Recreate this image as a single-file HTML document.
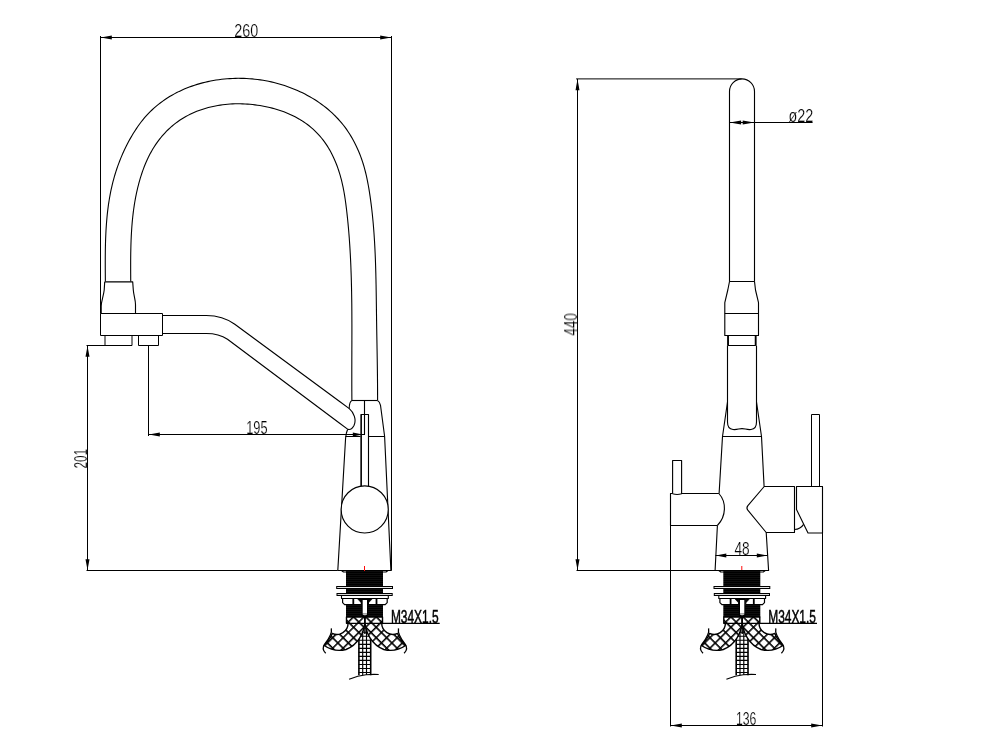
<!DOCTYPE html>
<html lang="en"><head><meta charset="utf-8"><title>Faucet dimensions</title>
<style>
html,body{margin:0;padding:0;background:#fff;}
body{width:981px;height:753px;overflow:hidden;}
svg{display:block;}
.g line,.g path,.g rect,.g circle,.g polyline{fill:none;stroke:#000;stroke-width:1.12;stroke-linecap:butt;stroke-linejoin:round;}
.g line,.g rect{stroke-width:1;}
.g .w{fill:#fff;}
.g .blk{fill:#000;stroke:#000;}
.g .ah{fill:#000;stroke:none;}
.g .red{stroke:#ff0a0a;stroke-width:1;}
.t{font-family:"Liberation Sans","DejaVu Sans",sans-serif;fill:#000;}
.tn{stroke:#fff;stroke-width:.2;}
.tb{stroke:#000;stroke-width:.5;}
</style></head><body>
<svg width="981" height="753" viewBox="0 0 981 753">
<rect x="0" y="0" width="981" height="753" fill="#fff"/>
<defs>
<pattern id="diaL" width="7.4" height="7.4" patternUnits="userSpaceOnUse" patternTransform="translate(337.9 641.8) rotate(45)"><rect width="7.4" height="7.4" fill="#fff"/><path d="M0,0 H7.4 M0,0 V7.4" stroke="#000" stroke-width="3.1" fill="none"/></pattern>
<pattern id="diaR" width="7.4" height="7.4" patternUnits="userSpaceOnUse" patternTransform="translate(391.9 641.8) rotate(45)"><rect width="7.4" height="7.4" fill="#fff"/><path d="M0,0 H7.4 M0,0 V7.4" stroke="#000" stroke-width="3.1" fill="none"/></pattern>
<pattern id="thr" width="4" height="2" patternUnits="userSpaceOnUse"><rect width="4" height="2" fill="#000"/><rect y="1.2" width="4" height=".6" fill="#161616"/></pattern>
</defs>
<g opacity="0.999">
<text class="t tn" transform="translate(246.2 37) scale(0.8 1)" font-size="18" text-anchor="middle">260</text>
<text class="t tn" transform="translate(256.9 434) scale(0.71 1)" font-size="18" text-anchor="middle">195</text>
<text class="t tn" transform="translate(87 458.8) rotate(-90) scale(0.65 1)" font-size="18" text-anchor="middle">201</text>
<text class="t tn" transform="translate(577 324.4) rotate(-90) scale(0.75 1)" font-size="18" text-anchor="middle">440</text>
<text class="t tn" transform="translate(800.8 122) scale(0.8 1)" font-size="18" text-anchor="middle">ø22</text>
<text class="t tn" transform="translate(742.1 555) scale(0.76 1)" font-size="18" text-anchor="middle">48</text>
<text class="t tn" transform="translate(746.2 725) scale(0.68 1)" font-size="18" text-anchor="middle">136</text>
<text class="t tb" transform="translate(390.9 622.9) scale(0.67 1)" font-size="17.8" text-anchor="start">M34X1.5</text>
<text class="t tb" transform="translate(768.2 622.9) scale(0.67 1)" font-size="17.8" text-anchor="start">M34X1.5</text>
</g>
<g class="g">
<line x1="100.5" y1="36" x2="100.5" y2="313.5"/>
<line x1="391.5" y1="36" x2="391.5" y2="570.5"/>
<line x1="100.5" y1="37.5" x2="391.5" y2="37.5"/>
<polygon class="ah" points="100.8,37.5 111.8,35.5 111.8,39.5"/>
<polygon class="ah" points="391.2,37.5 380.2,35.5 380.2,39.5"/>
<clipPath id="archclip"><path d="M0,0 H250 V281.5 H0 Z M250,0 H500 V400.5 H250 Z"/></clipPath>
<g clip-path="url(#archclip)">
<path d="M105.45,299.9 L105.45,297.18 L105.44,294.45 L105.43,291.72 L105.42,288.98 L105.4,286.24 L105.38,283.5 L105.36,280.74 L105.34,277.99 L105.32,275.23 L105.3,272.47 L105.28,269.7 L105.27,266.94 L105.26,264.17 L105.26,261.4 L105.27,258.62 L105.28,255.85 L105.31,253.08 L105.34,250.3 L105.39,247.53 L105.45,244.75 L105.52,241.98 L105.61,239.21 L105.72,236.44 L105.84,233.67 L105.98,230.9 L106.14,228.14 L106.33,225.38 L106.53,222.62 L106.76,219.87 L107.01,217.12 L107.28,214.38 L107.58,211.64 L107.91,208.9 L108.27,206.17 L108.65,203.45 L109.07,200.73 L109.52,198.02 L110,195.32 L110.51,192.62 L111.06,189.94 L111.65,187.26 L112.27,184.59 L112.93,181.92 L113.63,179.27 L114.37,176.63 L115.16,173.99 L115.98,171.37 L116.84,168.76 L117.74,166.16 L118.69,163.57 L119.67,160.99 L120.7,158.42 L121.76,155.87 L122.87,153.33 L124.02,150.8 L125.21,148.29 L126.44,145.79 L127.71,143.31 L129.02,140.84 L130.37,138.39 L131.77,135.97 L133.21,133.57 L134.7,131.19 L136.23,128.85 L137.8,126.53 L139.42,124.25 L141.1,122.02 L142.82,119.83 L144.59,117.7 L146.42,115.62 L148.3,113.6 L150.23,111.64 L152.21,109.74 L154.23,107.9 L156.31,106.11 L158.42,104.38 L160.58,102.71 L162.79,101.1 L165.03,99.54 L167.31,98.04 L169.63,96.59 L171.98,95.21 L174.37,93.87 L176.79,92.6 L179.25,91.38 L181.73,90.22 L184.24,89.11 L186.78,88.05 L189.35,87.06 L191.94,86.11 L194.55,85.23 L197.18,84.39 L199.83,83.61 L202.51,82.89 L205.19,82.22 L207.9,81.6 L210.62,81.04 L213.35,80.53 L216.09,80.07 L218.84,79.67 L221.6,79.32 L224.37,79.02 L227.14,78.77 L229.91,78.58 L232.69,78.44 L235.47,78.35 L238.25,78.32 L241.03,78.33 L243.8,78.4 L246.57,78.52 L249.34,78.69 L252.1,78.91 L254.85,79.18 L257.6,79.51 L260.34,79.88 L263.07,80.31 L265.8,80.79 L268.51,81.32 L271.21,81.9 L273.91,82.53 L276.58,83.22 L279.25,83.95 L281.9,84.74 L284.54,85.57 L287.16,86.46 L289.77,87.4 L292.35,88.39 L294.92,89.43 L297.47,90.52 L300,91.67 L302.5,92.86 L304.97,94.1 L307.42,95.4 L309.84,96.74 L312.23,98.14 L314.59,99.58 L316.91,101.07 L319.2,102.62 L321.45,104.21 L323.66,105.86 L325.83,107.55 L327.96,109.29 L330.04,111.09 L332.08,112.93 L334.08,114.82 L336.02,116.76 L337.91,118.75 L339.76,120.78 L341.54,122.87 L343.28,125.01 L344.95,127.19 L346.57,129.42 L348.13,131.7 L349.63,134.02 L351.08,136.38 L352.47,138.77 L353.81,141.2 L355.09,143.67 L356.31,146.16 L357.47,148.68 L358.59,151.23 L359.64,153.8 L360.64,156.39 L361.59,159 L362.48,161.62 L363.32,164.26 L364.1,166.91 L364.83,169.57 L365.52,172.25 L366.17,174.93 L366.77,177.62 L367.34,180.31 L367.87,183.02 L368.37,185.73 L368.84,188.45 L369.29,191.17 L369.71,193.89 L370.12,196.62 L370.5,199.34 L370.87,202.08 L371.23,204.81 L371.56,207.54 L371.88,210.28 L372.19,213.02 L372.47,215.76 L372.75,218.5 L373.01,221.25 L373.26,224 L373.49,226.74 L373.71,229.49 L373.92,232.24 L374.11,235 L374.29,237.75 L374.47,240.51 L374.63,243.26 L374.78,246.02 L374.92,248.78 L375.05,251.54 L375.18,254.3 L375.29,257.06 L375.4,259.82 L375.5,262.58 L375.59,265.35 L375.67,268.11 L375.75,270.87 L375.83,273.64 L375.89,276.4 L375.96,279.17 L376.01,281.94 L376.07,284.7 L376.12,287.47 L376.16,290.23 L376.21,293 L376.25,295.77 L376.29,298.53 L376.32,301.3 L376.36,304.06 L376.4,306.83 L376.43,309.59 L376.47,312.36 L376.51,315.12 L376.54,317.88 L376.58,320.64 L376.63,323.41 L376.67,326.17 L376.71,328.93 L376.76,331.69 L376.8,334.45 L376.85,337.2 L376.9,339.96 L376.95,342.72 L377,345.48 L377.04,348.23 L377.09,350.99 L377.14,353.75 L377.18,356.51 L377.23,359.26 L377.27,362.02 L377.31,364.78 L377.35,367.53 L377.39,370.29 L377.42,373.05 L377.45,375.81 L377.48,378.56 L377.51,381.32 L377.53,384.08 L377.55,386.84 L377.57,389.6 L377.58,392.36 L377.59,395.12 L377.59,397.89 L377.59,400.65 L377.58,403.41 L377.57,406.18 L377.55,408.94 L377.53,411.71 L377.5,414.48 L377.46,417.25 L377.42,420.02" style="stroke-width:1.1"/>
<path d="M130.81,299.94 L130.82,297.51 L130.81,295.07 L130.8,292.63 L130.79,290.19 L130.78,287.75 L130.76,285.3 L130.75,282.85 L130.73,280.4 L130.71,277.95 L130.7,275.49 L130.68,273.03 L130.67,270.57 L130.66,268.11 L130.66,265.65 L130.66,263.19 L130.67,260.73 L130.69,258.26 L130.71,255.8 L130.74,253.34 L130.79,250.88 L130.84,248.41 L130.9,245.95 L130.97,243.49 L131.06,241.03 L131.16,238.57 L131.27,236.12 L131.4,233.66 L131.55,231.21 L131.71,228.76 L131.88,226.31 L132.08,223.86 L132.29,221.42 L132.53,218.98 L132.78,216.54 L133.06,214.11 L133.36,211.68 L133.68,209.26 L134.03,206.83 L134.39,204.42 L134.79,202 L135.21,199.6 L135.66,197.19 L136.13,194.79 L136.64,192.4 L137.17,190.02 L137.73,187.63 L138.33,185.26 L138.95,182.89 L139.61,180.53 L140.3,178.17 L141.03,175.82 L141.79,173.49 L142.59,171.16 L143.43,168.84 L144.3,166.54 L145.22,164.25 L146.18,161.98 L147.19,159.73 L148.24,157.5 L149.34,155.3 L150.49,153.11 L151.69,150.96 L152.94,148.83 L154.25,146.72 L155.6,144.65 L157.02,142.62 L158.48,140.61 L160,138.65 L161.56,136.73 L163.18,134.85 L164.84,133.02 L166.55,131.23 L168.3,129.5 L170.1,127.83 L171.93,126.21 L173.81,124.65 L175.73,123.15 L177.68,121.71 L179.67,120.32 L181.7,119 L183.76,117.74 L185.85,116.53 L187.98,115.38 L190.13,114.29 L192.32,113.26 L194.53,112.28 L196.77,111.35 L199.03,110.49 L201.32,109.67 L203.62,108.91 L205.95,108.21 L208.3,107.56 L210.67,106.96 L213.06,106.42 L215.46,105.92 L217.87,105.48 L220.3,105.09 L222.75,104.76 L225.2,104.47 L227.66,104.23 L230.13,104.05 L232.61,103.91 L235.09,103.82 L237.58,103.78 L240.07,103.79 L242.56,103.85 L245.05,103.95 L247.54,104.1 L250.03,104.3 L252.52,104.54 L255,104.83 L257.48,105.17 L259.95,105.54 L262.41,105.97 L264.86,106.44 L267.3,106.95 L269.72,107.5 L272.14,108.1 L274.53,108.75 L276.91,109.44 L279.27,110.19 L281.61,110.98 L283.93,111.82 L286.22,112.71 L288.48,113.65 L290.72,114.64 L292.93,115.69 L295.11,116.79 L297.26,117.94 L299.37,119.15 L301.45,120.41 L303.49,121.73 L305.49,123.11 L307.45,124.55 L309.37,126.04 L311.25,127.59 L313.08,129.19 L314.86,130.85 L316.59,132.56 L318.28,134.32 L319.91,136.13 L321.48,138 L323,139.9 L324.47,141.86 L325.87,143.86 L327.22,145.9 L328.52,147.98 L329.76,150.1 L330.95,152.25 L332.08,154.44 L333.17,156.65 L334.2,158.9 L335.19,161.17 L336.13,163.46 L337.02,165.78 L337.86,168.11 L338.66,170.46 L339.41,172.82 L340.12,175.2 L340.79,177.59 L341.42,179.98 L342,182.38 L342.55,184.78 L343.07,187.19 L343.55,189.6 L344,192.02 L344.42,194.44 L344.81,196.86 L345.18,199.29 L345.53,201.72 L345.86,204.15 L346.18,206.58 L346.47,209.02 L346.76,211.46 L347.03,213.89 L347.3,216.33 L347.56,218.77 L347.8,221.21 L348.04,223.65 L348.27,226.09 L348.49,228.54 L348.7,230.98 L348.9,233.42 L349.09,235.87 L349.28,238.31 L349.45,240.76 L349.62,243.21 L349.78,245.65 L349.94,248.1 L350.08,250.55 L350.22,253 L350.36,255.45 L350.48,257.9 L350.6,260.35 L350.71,262.8 L350.82,265.25 L350.92,267.7 L351.01,270.16 L351.1,272.61 L351.18,275.06 L351.26,277.52 L351.33,279.97 L351.39,282.43 L351.45,284.88 L351.51,287.34 L351.56,289.79 L351.61,292.25 L351.65,294.7 L351.69,297.16 L351.73,299.62 L351.76,302.07 L351.79,304.53 L351.81,306.99 L351.83,309.45 L351.85,311.9 L351.86,314.36 L351.87,316.82 L351.88,319.28 L351.89,321.74 L351.9,324.2 L351.9,326.65 L351.9,329.11 L351.9,331.57 L351.9,334.03 L351.89,336.49 L351.89,338.95 L351.88,341.41 L351.88,343.87 L351.87,346.32 L351.86,348.78 L351.85,351.24 L351.85,353.7 L351.84,356.16 L351.83,358.62 L351.82,361.07 L351.82,363.53 L351.81,365.99 L351.8,368.45 L351.8,370.9 L351.8,373.36 L351.8,375.82 L351.8,378.27 L351.8,380.73 L351.8,383.19 L351.81,385.64 L351.81,388.1 L351.82,390.55 L351.84,393.01 L351.85,395.46 L351.87,397.91 L351.89,400.37 L351.92,402.82 L351.95,405.27 L351.98,407.72 L352.02,410.17 L352.06,412.62 L352.1,415.08 L352.15,417.52 L352.2,419.97" style="stroke-width:1.1"/>
</g>
<path d="M104.7,281.9 H132.7 L133.3,290 C133.8,296 135.5,300 135.5,304.5 V313.5 M104.7,281.9 L104.2,290 C103.6,296 101.2,301 101.2,306 V313.5"/>
<rect x="100.5" y="313.5" width="62" height="22"/>
<rect x="105" y="335.5" width="27" height="10"/>
<rect x="138.5" y="335.5" width="20" height="10"/>
<path d="M162.5,315.5 H206.3 C218,315.5 227,318.6 234.8,324.3 L349.3,408.6 C354,412.5 356.6,420 354,425.6 C352.5,428.6 350,429.9 347.9,429.4 L227.5,339.3 C221.5,335.2 215,333.5 206.3,333.5 H162.5"/>
<path d="M352,400.5 H377.5"/>
<path d="M352,400.5 C350.3,401.2 349.3,403.5 349.2,408.5"/>
<path d="M377.5,400.5 C379.5,401.5 380,403 380.5,405.3 L384.6,436.2 L390.9,570.5"/>
<path d="M347.6,429.5 L346.4,433 L345.6,438 L337.8,570.5"/>
<line x1="345.4" y1="436.5" x2="360.5" y2="436.5"/>
<line x1="368.5" y1="436.5" x2="384.6" y2="436.5"/>
<line x1="337.8" y1="570.5" x2="391.5" y2="570.5"/>
<path d="M360.7,414.5 H368.5 V487"/>
<line x1="361.15" y1="414.5" x2="361.15" y2="487" style="stroke-width:1.6"/>
<path d="M364.5,400.5 V434.5 H361"/>
<circle class="w" cx="364.7" cy="509.4" r="23.55"/>
<line x1="148.5" y1="345.5" x2="148.5" y2="436"/>
<line x1="148.5" y1="434.5" x2="362.6" y2="434.5"/>
<polygon class="ah" points="148.8,434.5 159.8,432.5 159.8,436.5"/>
<polygon class="ah" points="362.6,434.5 352.8,432.5 352.8,436.5"/>
<line x1="86.5" y1="345.5" x2="117.5" y2="345.5"/>
<line x1="86.5" y1="570.5" x2="337.8" y2="570.5"/>
<line x1="87.5" y1="345.5" x2="87.5" y2="570.5"/>
<polygon class="ah" points="87.5,345.8 85.5,356.8 89.5,356.8"/>
<polygon class="ah" points="87.5,570.2 85.5,559.2 89.5,559.2"/>
<g transform="translate(0 0)">
<path d="M341.5,570.5 L343.5,572 H386 L388,570.5"/>
<rect x="346" y="571" width="37" height="15" style="fill:url(#thr);stroke:none"/>
<rect x="346" y="589" width="37" height="4" style="fill:url(#thr);stroke:none"/>
<rect x="336.2" y="586" width="56.8" height="3" style="fill:#000;stroke:none"/>
<rect x="337.2" y="587" width="54.8" height="1" style="fill:#e8e8e8;stroke:none"/>
<rect x="336.5" y="593" width="56.2" height="3" style="fill:#000;stroke:none"/>
<rect x="337.5" y="594" width="54.2" height="1" style="fill:#d8d8d8;stroke:none"/>
<path class="w" d="M341.5,596 V598.5 H388.3 V596" style="stroke-width:1.1"/>
<path class="w" d="M342.6,598.5 V602.6 L344.6,604.6 H361.4 V598.5 Z" style="stroke-width:1.2"/>
<path class="w" d="M387.2,598.5 V602.6 L385.2,604.6 H368.4 V598.5 Z" style="stroke-width:1.2"/>
<path d="M353.3,598.5 V604.5 M376.5,598.5 V604.5" style="stroke-width:1.8"/>
<path d="M357.2,598.5 H361 V602.5 Z M372.6,598.5 H368.8 V602.5 Z" style="fill:#000;stroke-width:.6"/>
<path d="M349,604.8 H357 M372.8,604.8 H380.8" style="stroke:#000;stroke-width:1.6"/>
<rect x="346" y="604.8" width="37" height="12.5" style="fill:url(#thr);stroke:none"/>
<rect x="361.5" y="598.5" width="6.6" height="17.5" style="fill:#000;stroke:none"/>
<rect x="362.7" y="600" width="4.3" height="13.6" style="fill:#fff;stroke:none"/>
<path d="M362.7,613.8 H367 V614.6 C366.3,615.6 363.4,615.6 362.7,614.6 Z" style="fill:#c4c4c4;stroke:none"/>
<path d="M362.7,624 V675 M366.5,624 V675 M358.6,628.2 H370.9 M358.6,632.23 H370.9 M358.6,636.26 H370.9 M358.6,640.29 H370.9 M358.6,644.32 H370.9 M358.6,648.35 H370.9 M358.6,652.38 H370.9 M358.6,656.41 H370.9 M358.6,660.44 H370.9 M358.6,664.47 H370.9 M358.6,668.5 H370.9 M358.6,672.53 H370.9" style="stroke-width:1.15"/>
<path d="M358.9,624 V675.2 M370.7,624 V675.2" style="stroke-width:1.6"/>
<path d="M349.1,679.3 C355,676.8 361,675.2 366,674.7 C370,674.4 375,674.4 378.7,674.5"/>
<path d="M346.5,617 V623.3 H348.1 A11.2,11.2 0 0 1 332.2,633.4 C331,638 327.5,641.5 324.2,645.5 C330,649.5 338,651.5 346,649.5 C358,645 364,633 364.9,622 V617 Z" style="fill:url(#diaL);stroke-width:1.4"/>
<path d="M382.5,617 V623.3 H381.7 A11.2,11.2 0 0 0 397.6,633.4 C398.8,638 402.3,641.5 405.6,645.5 C399.8,649.5 391.8,651.5 383.8,649.5 C371.8,645 365.8,633 364.9,622 V617 Z" style="fill:url(#diaR);stroke-width:1.4"/>
<path d="M331.3,628.3 C332.6,634 328,640 324.5,644.5 C322,648 323.4,651 325.7,653.3" style="stroke-width:1.3"/>
<path d="M398.5,628.3 C397.2,634 401.8,640 405.3,644.5 C407.8,648 406.4,651 404.1,653.3" style="stroke-width:1.3"/>
<line x1="364.9" y1="617" x2="364.9" y2="634" style="stroke-width:1.4"/>
<line x1="346.5" y1="623.4" x2="439.7" y2="623.4" style="stroke-width:1.2"/>
<line class="red" x1="364.5" y1="566" x2="364.5" y2="571"/>
</g>
<g transform="translate(377.3 0)">
<path d="M341.5,570.5 L343.5,572 H386 L388,570.5"/>
<rect x="346" y="571" width="37" height="15" style="fill:url(#thr);stroke:none"/>
<rect x="346" y="589" width="37" height="4" style="fill:url(#thr);stroke:none"/>
<rect x="336.2" y="586" width="56.8" height="3" style="fill:#000;stroke:none"/>
<rect x="337.2" y="587" width="54.8" height="1" style="fill:#e8e8e8;stroke:none"/>
<rect x="336.5" y="593" width="56.2" height="3" style="fill:#000;stroke:none"/>
<rect x="337.5" y="594" width="54.2" height="1" style="fill:#d8d8d8;stroke:none"/>
<path class="w" d="M341.5,596 V598.5 H388.3 V596" style="stroke-width:1.1"/>
<path class="w" d="M342.6,598.5 V602.6 L344.6,604.6 H361.4 V598.5 Z" style="stroke-width:1.2"/>
<path class="w" d="M387.2,598.5 V602.6 L385.2,604.6 H368.4 V598.5 Z" style="stroke-width:1.2"/>
<path d="M353.3,598.5 V604.5 M376.5,598.5 V604.5" style="stroke-width:1.8"/>
<path d="M357.2,598.5 H361 V602.5 Z M372.6,598.5 H368.8 V602.5 Z" style="fill:#000;stroke-width:.6"/>
<path d="M349,604.8 H357 M372.8,604.8 H380.8" style="stroke:#000;stroke-width:1.6"/>
<rect x="346" y="604.8" width="37" height="12.5" style="fill:url(#thr);stroke:none"/>
<rect x="361.5" y="598.5" width="6.6" height="17.5" style="fill:#000;stroke:none"/>
<rect x="362.7" y="600" width="4.3" height="13.6" style="fill:#fff;stroke:none"/>
<path d="M362.7,613.8 H367 V614.6 C366.3,615.6 363.4,615.6 362.7,614.6 Z" style="fill:#c4c4c4;stroke:none"/>
<path d="M362.7,624 V675 M366.5,624 V675 M358.6,628.2 H370.9 M358.6,632.23 H370.9 M358.6,636.26 H370.9 M358.6,640.29 H370.9 M358.6,644.32 H370.9 M358.6,648.35 H370.9 M358.6,652.38 H370.9 M358.6,656.41 H370.9 M358.6,660.44 H370.9 M358.6,664.47 H370.9 M358.6,668.5 H370.9 M358.6,672.53 H370.9" style="stroke-width:1.15"/>
<path d="M358.9,624 V675.2 M370.7,624 V675.2" style="stroke-width:1.6"/>
<path d="M349.1,679.3 C355,676.8 361,675.2 366,674.7 C370,674.4 375,674.4 378.7,674.5"/>
<path d="M346.5,617 V623.3 H348.1 A11.2,11.2 0 0 1 332.2,633.4 C331,638 327.5,641.5 324.2,645.5 C330,649.5 338,651.5 346,649.5 C358,645 364,633 364.9,622 V617 Z" style="fill:url(#diaL);stroke-width:1.4"/>
<path d="M382.5,617 V623.3 H381.7 A11.2,11.2 0 0 0 397.6,633.4 C398.8,638 402.3,641.5 405.6,645.5 C399.8,649.5 391.8,651.5 383.8,649.5 C371.8,645 365.8,633 364.9,622 V617 Z" style="fill:url(#diaR);stroke-width:1.4"/>
<path d="M331.3,628.3 C332.6,634 328,640 324.5,644.5 C322,648 323.4,651 325.7,653.3" style="stroke-width:1.3"/>
<path d="M398.5,628.3 C397.2,634 401.8,640 405.3,644.5 C407.8,648 406.4,651 404.1,653.3" style="stroke-width:1.3"/>
<line x1="364.9" y1="617" x2="364.9" y2="634" style="stroke-width:1.4"/>
<line x1="346.5" y1="623.4" x2="439.7" y2="623.4" style="stroke-width:1.2"/>
<line class="red" x1="364.5" y1="566" x2="364.5" y2="571"/>
</g>
<line x1="576.1" y1="78.9" x2="741.6" y2="78.9"/>
<line x1="577.5" y1="79" x2="577.5" y2="570.5"/>
<polygon class="ah" points="577.5,79.3 575.5,90.3 579.5,90.3"/>
<polygon class="ah" points="577.5,570.2 575.5,559.2 579.5,559.2"/>
<line x1="576.5" y1="570.5" x2="715.1" y2="570.5"/>
<path d="M729.5,281.5 V91.4 A12.5,12.5 0 0 1 754.5,91.4 V281.5"/>
<line x1="729.5" y1="122.5" x2="812.6" y2="122.5"/>
<polygon class="ah" points="729.8,122.5 741.1,120.5 741.1,124.5"/>
<polygon class="ah" points="754.2,122.5 742.7,120.5 742.7,124.5"/>
<path d="M729.5,281.5 H754.5 L755.5,290 L758.5,302.6 V335.5 H724.8 V302.6 L727.8,290 Z"/>
<line x1="724.8" y1="313.5" x2="758.5" y2="313.5"/>
<rect x="727.9" y="335.5" width="27.9" height="10"/>
<path d="M728.1,335.5 V345.5 M755.6,335.5 V345.5" style="stroke-width:1.7"/>
<path d="M727.5,345.5 V422 C727.5,427.5 729.5,429.2 733,429.5 C737,430 739,428.6 742,428.6 C745,428.6 747,430 751,429.5 C754.5,429.2 756.5,427.5 756.5,422 V345.5"/>
<path d="M727.5,402 L722.5,436.5 L719.1,493.5"/>
<path d="M756.5,402 L761.5,436.5 L764.1,486.5"/>
<line x1="722.5" y1="436.5" x2="761.5" y2="436.5"/>
<path d="M717.4,525.5 L715.1,570.5 H768.6 L766.2,532.5"/>
<path d="M718.9,493.5 H681.6 M672.6,493.5 H670.5 V525.5 H717.4"/>
<path d="M718.9,493.5 C726.5,502 726.5,516 717.4,525.5"/>
<path d="M672.6,493.8 V460.5 H681.6 V493.8 Q677.1,495.3 672.6,493.8"/>
<path d="M764.2,486.5 L747.9,505.6 Q746,507.9 747.8,510.2 L766.2,532.5 H794.5 V486.5 Z"/>
<path d="M796.5,486.5 H822.5 V533 H808 L796.5,509.6 Z"/>
<path d="M794.5,529.5 C798.5,529.3 801.5,527.6 803.6,524.4"/>
<rect x="811.5" y="414.5" width="8" height="72"/>
<line x1="715.4" y1="555.5" x2="767.7" y2="555.5"/>
<polygon class="ah" points="715.7,555.5 726.3,553.5 726.3,557.5"/>
<polygon class="ah" points="767.4,555.5 756.8,553.5 756.8,557.5"/>
<line x1="670.5" y1="493.5" x2="670.5" y2="726.5"/>
<line x1="822.5" y1="486.5" x2="822.5" y2="726.5"/>
<line x1="670.5" y1="725.5" x2="822.5" y2="725.5"/>
<polygon class="ah" points="670.8,725.5 681.8,723.5 681.8,727.5"/>
<polygon class="ah" points="822.2,725.5 811.2,723.5 811.2,727.5"/>
</g>
</svg></body></html>
